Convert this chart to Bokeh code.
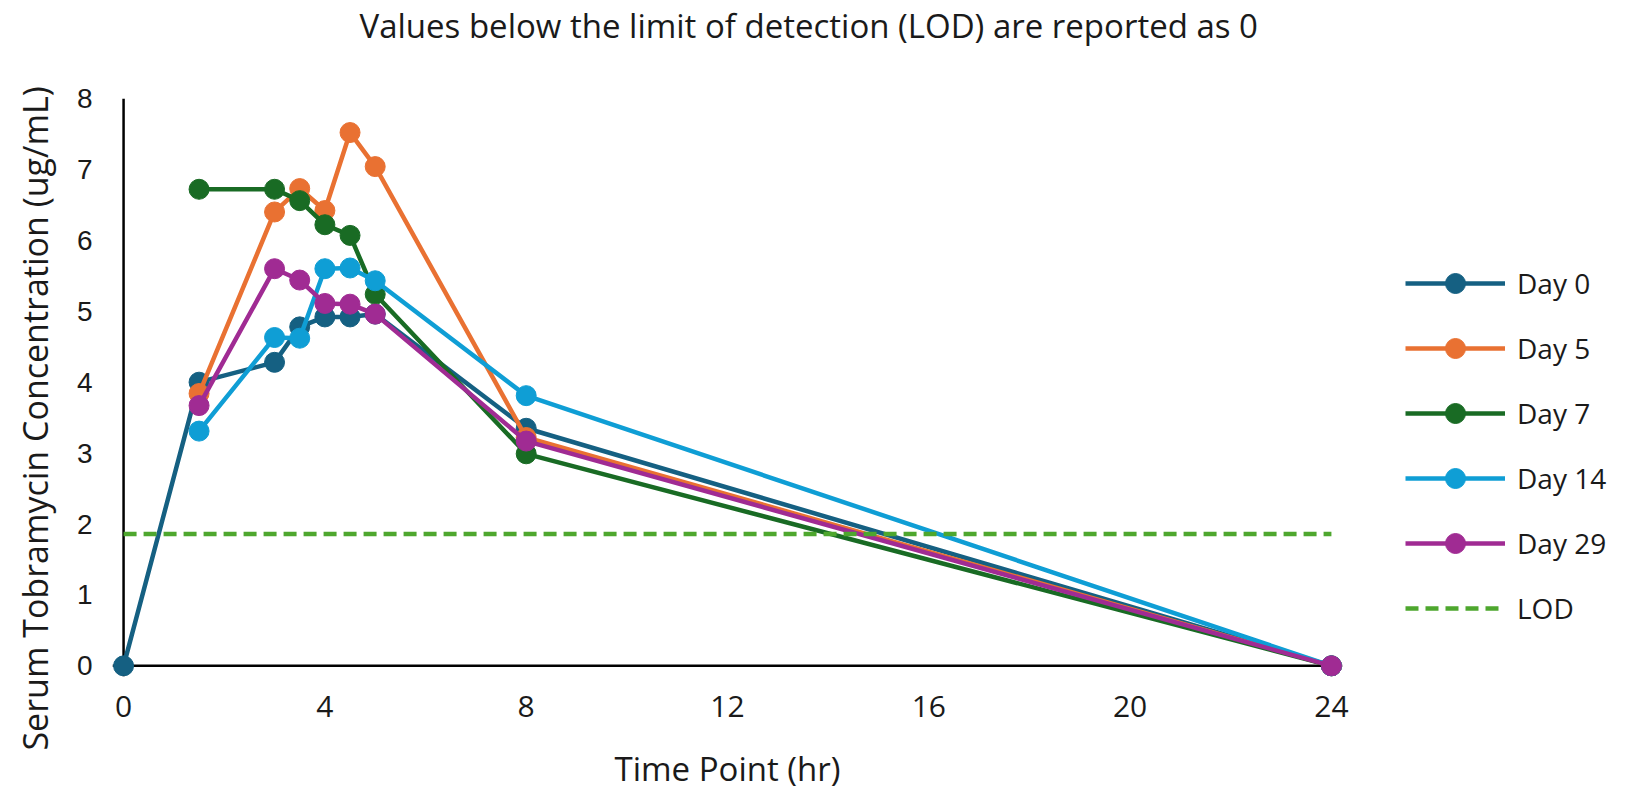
from bokeh.plotting import figure
from bokeh.models import Legend, LegendItem, FixedTicker, Range1d, Span, Title
from bokeh.embed import file_html
from bokeh.resources import INLINE

# ---- data ----
time_day0 = [0, 1.5, 3, 3.5, 4, 4.5, 5, 8, 24]
time_other = [1.5, 3, 3.5, 4, 4.5, 5, 8, 24]
day0 = [0, 4.00, 4.28, 4.78, 4.92, 4.92, 4.96, 3.35, 0]
day5 = [3.84, 6.40, 6.73, 6.42, 7.52, 7.04, 3.22, 0]
day7 = [6.72, 6.72, 6.56, 6.22, 6.07, 5.24, 2.99, 0]
day14 = [3.31, 4.63, 4.62, 5.60, 5.61, 5.43, 3.81, 0]
day29 = [3.67, 5.60, 5.44, 5.11, 5.10, 4.96, 3.17, 0]
lod_x = [0, 24]
lod_y = [1.86, 1.86]
x_ticks = [0, 4, 8, 12, 16, 20, 24]
y_ticks = [0, 1, 2, 3, 4, 5, 6, 7, 8]

series = [
    ("Day 0", time_day0, day0, "#156082"),
    ("Day 5", time_other, day5, "#E97132"),
    ("Day 7", time_other, day7, "#196B24"),
    ("Day 14", time_other, day14, "#0F9ED5"),
    ("Day 29", time_other, day29, "#A02B93"),
]

FONT = "Open Sans"
TXT = "#1a1a1a"

p = figure(
    frame_width=1230, frame_height=578,
    min_border_left=112, min_border_right=295,
    min_border_top=98, min_border_bottom=110,
    x_range=Range1d(-0.22, 24.22), y_range=Range1d(-0.15, 8.0),
    output_backend="svg", toolbar_location=None,
)
p.outline_line_color = None
p.background_fill_color = "white"
p.border_fill_color = "white"
p.xgrid.grid_line_color = None
p.ygrid.grid_line_color = None

# spacer between title and plot area (closer to the frame than the title)
spacer = Title(text="\u00a0", text_font_size="1px", standoff=44, text_color="white")
p.add_layout(spacer, "above")

# title (outermost)
p.title.text = "Values below the limit of detection (LOD) are reported as 0"
p.title.align = "left"
p.title.vertical_align = "top"
p.title.offset = 247
p.title.text_font = FONT
p.title.text_font_style = "normal"
p.title.text_font_size = "33px"
p.title.text_color = TXT
p.title.standoff = 4

# axes
for ax in (p.xaxis[0], p.yaxis[0]):
    ax.axis_line_color = None
    ax.major_tick_line_color = None
    ax.minor_tick_line_color = None
    ax.major_tick_out = 0
    ax.major_tick_in = 0
    ax.axis_label_text_font = FONT
    ax.axis_label_text_font_style = "normal"
    ax.axis_label_text_color = TXT
    ax.major_label_text_color = TXT

p.xaxis.ticker = FixedTicker(ticks=x_ticks)
p.yaxis.ticker = FixedTicker(ticks=y_ticks)
p.xaxis.axis_label = "Time Point (hr)"
p.yaxis.axis_label = "Serum Tobramycin Concentration (ug/mL)" + "\u00a0" * 7
p.xaxis.axis_label_text_font_size = "33px"
p.yaxis.axis_label_text_font_size = "34px"
p.xaxis.major_label_text_font = FONT
p.xaxis.major_label_text_font_size = "30px"
p.yaxis.major_label_text_font = "Liberation Sans"
p.yaxis.major_label_text_font_size = "28px"
p.xaxis.major_label_standoff = 19
p.yaxis.major_label_standoff = 20
p.xaxis.axis_label_standoff = 26
p.yaxis.axis_label_standoff = 16

# axis lines at data zero
p.add_layout(Span(location=0, dimension="height", line_color="black", line_width=2.5, level="underlay"))
p.add_layout(Span(location=0, dimension="width", line_color="black", line_width=2.5, level="underlay"))

items = []
for name, xs, ys, col in series:
    r1 = p.line(xs, ys, line_color=col, line_width=4.5)
    r2 = p.scatter(xs, ys, size=20, fill_color=col, line_color=col)
    items.append(LegendItem(label=name, renderers=[r1, r2]))

rl = p.line(lod_x, lod_y, line_color="#4EA72E", line_width=4.5, line_dash="13 7")
items.append(LegendItem(label="LOD", renderers=[rl]))

legend = Legend(items=items, location=(63, 43))
legend.border_line_color = None
legend.background_fill_alpha = 0
legend.margin = 0
legend.padding = 0
legend.glyph_width = 100
legend.glyph_height = 50
legend.label_height = 50
legend.spacing = 15
legend.label_standoff = 12
legend.label_text_font = FONT
legend.label_text_font_size = "28px"
legend.label_text_color = TXT
p.add_layout(legend, "right")

open("out.html", "w").write(file_html(p, INLINE))
